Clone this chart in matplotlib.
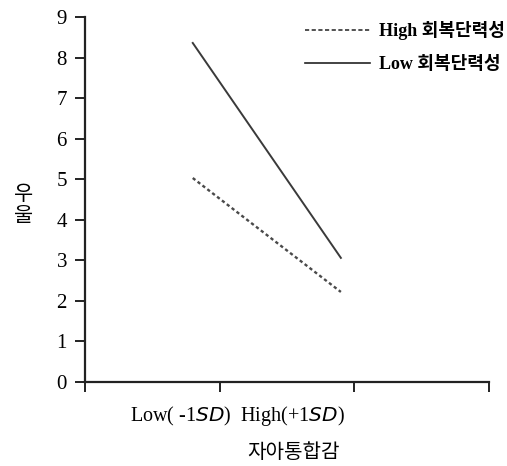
import matplotlib
matplotlib.use("Agg")
import matplotlib.pyplot as plt
from matplotlib.lines import Line2D

# data
x_pos = [0.80, 1.90]
high_res = [5.03, 2.22]
low_res = [8.36, 3.06]
series_labels = ["High 회복단력성", "Low 회복단력성"]
y_ticks = list(range(0, 10))
x_ticks = [0, 1, 2, 3]
x_group_label = "Low( -1$\\mathit{SD}$)  High(+1$\\mathit{SD}$)"
xlabel = "자아통합감"
ylabel_chars = ["우", "울"]

fig = plt.figure(figsize=(5.07, 4.66), dpi=100)
ax = fig.add_axes([0.1677, 0.1803, 0.7968, 0.7832])

ax.plot(x_pos, low_res, color="#3a3a3a", lw=1.4, ls="-")
ax.plot(x_pos, high_res, color="#4a4a4a", lw=1.7, ls=(0, (1.4, 1.2)))

ax.set_xlim(0, 3)
ax.set_ylim(0, 9)
ax.set_xticks(x_ticks)
ax.set_xticklabels([])
ax.set_yticks(y_ticks)
ax.set_yticklabels([str(v) for v in y_ticks], fontfamily="Liberation Serif", fontsize=15)
for s in ["top", "right"]:
    ax.spines[s].set_visible(False)
for s in ["left", "bottom"]:
    ax.spines[s].set_linewidth(1.6)
    ax.spines[s].set_color("#222222")
ax.tick_params(axis="both", length=7, width=1.4, color="#222222", pad=6)

fig.text(237 / 507, 1 - 416 / 466, x_group_label,
         ha="center", va="center", fontsize=14.5, fontfamily="Liberation Serif")
fig.text(294 / 507, 1 - 452 / 466, xlabel, ha="center", va="center", fontsize=14.5,
         fontfamily="Noto Sans CJK KR")
fig.text(24 / 507, 1 - 194 / 466, ylabel_chars[0], ha="center", va="center", fontsize=15,
         fontfamily="Noto Sans CJK KR", rotation=0)
fig.text(24 / 507, 1 - 216 / 466, ylabel_chars[1], ha="center", va="center", fontsize=15,
         fontfamily="Noto Sans CJK KR", rotation=0)

handles = [Line2D([], [], color="#333333", lw=1.2, ls=(0, (2.5, 1.5))),
           Line2D([], [], color="#222222", lw=1.2, ls="-")]
leg = fig.legend(handles, series_labels, loc="upper right", bbox_to_anchor=(505 / 507, 1 - 21 / 466),
                 frameon=False, handlelength=3.6, handletextpad=0.5, labelspacing=0.9, borderpad=0,
                 borderaxespad=0,
                 prop={"family": ["Liberation Serif", "Noto Sans CJK KR"], "weight": "bold", "size": 13})

fig.savefig("out.png", dpi=100)
